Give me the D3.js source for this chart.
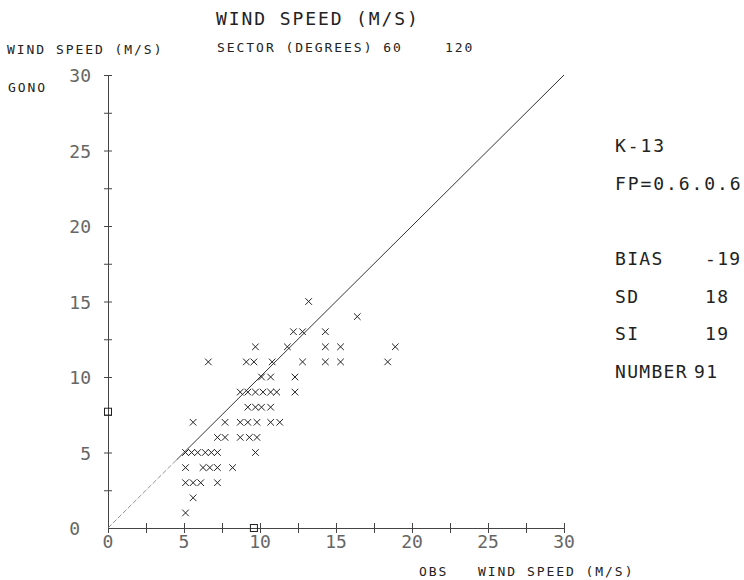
<!DOCTYPE html>
<html>
<head>
<meta charset="UTF-8">
<title>Wind speed scatter</title>
<script src="https://cdn.jsdelivr.net/npm/d3@7"></script>
<style>
  body { margin: 0; background: #fff; }
  svg text { font-family: "DejaVu Sans Mono", monospace; fill: #222; }
  .tick-lbl { font-size: 18px; fill: #666; }
  .small { font-size: 13px; letter-spacing: 1.95px; }
  .big { font-size: 18px; letter-spacing: 1.9px; }
  .stat { font-size: 18px; letter-spacing: 1.3px; }
  .axis-line { stroke: #444; stroke-width: 1; fill: none; }
  .mark { stroke: #222; stroke-width: 1; }
</style>
</head>
<body>
<div id="root"></div>
<script>
  // observed (x) vs model (y) wind speed, m/s
  const obs   = [5.1, 5.6,
                 5.1, 5.6, 6.1, 7.2,
                 5.1, 6.25, 6.7, 7.2, 8.2,
                 5.1, 5.5, 5.9, 6.4, 6.8, 7.2, 9.7,
                 7.2, 7.7, 8.7, 9.3, 9.8,
                 5.6, 7.7, 8.7, 9.2, 9.8, 10.7, 11.3,
                 9.2, 9.7, 10.1, 10.7,
                 8.7, 9.2, 9.7, 10.2, 10.7, 11.1, 12.3,
                 10.1, 10.7, 12.3,
                 6.6, 9.1, 9.6, 10.8, 12.8, 14.3, 15.3, 18.4,
                 9.7, 11.8, 14.3, 15.3, 18.9,
                 12.2, 12.8, 14.3,
                 16.4,
                 13.2];
  const model = [1, 2,
                 3, 3, 3, 3,
                 4, 4, 4, 4, 4,
                 5, 5, 5, 5, 5, 5, 5,
                 6, 6, 6, 6, 6,
                 7, 7, 7, 7, 7, 7, 7,
                 8, 8, 8, 8,
                 9, 9, 9, 9, 9, 9, 9,
                 10, 10, 10,
                 11, 11, 11, 11, 11, 11, 11, 11,
                 12, 12, 12, 12, 12,
                 13, 13, 13,
                 14,
                 15];
  const meanObs = 9.6;
  const meanModel = 7.7;
  const majorTicks = [0, 5, 10, 15, 20, 25, 30];
  const minorTicks = [2.5, 7.5, 12.5, 17.5, 22.5, 27.5];
  const statNames = ["BIAS", "SD", "SI", "NUMBER"];
  const statValues = ["-19", "18", "19", "91"];

  const width = 744, height = 580;
  const svg = d3.select("#root").append("svg")
    .attr("width", width).attr("height", height);

  const x = d3.scaleLinear().domain([0, 30]).range([108, 564]);
  const y = d3.scaleLinear().domain([0, 30]).range([528, 75]);

  // axes: line plus ticks crossing it on both sides
  const xAxis = d3.axisBottom(x).tickValues(majorTicks.concat(minorTicks))
    .tickSizeInner(5).tickSizeOuter(0).tickFormat("");
  const gx = svg.append("g").attr("transform", `translate(0,${y(0)})`).call(xAxis);
  gx.select(".domain").attr("class", "axis-line");
  gx.selectAll(".tick line").attr("y1", -5).attr("stroke", "#444");

  const yAxis = d3.axisLeft(y).tickValues(majorTicks.slice(1).concat(minorTicks))
    .tickSizeInner(4).tickSizeOuter(0).tickFormat("");
  const gy = svg.append("g").attr("transform", `translate(${x(0)},0)`).call(yAxis);
  gy.select(".domain").attr("class", "axis-line");
  gy.selectAll(".tick line").attr("x1", 4).attr("stroke", "#444");

  svg.append("g").selectAll("text").data(majorTicks).join("text")
    .attr("class", "tick-lbl")
    .attr("x", d => x(d)).attr("y", y(0) + 20)
    .attr("text-anchor", "middle").text(d => d);

  svg.append("g").selectAll("text").data(majorTicks).join("text")
    .attr("class", "tick-lbl")
    .attr("x", d => d === 0 ? x(0) - 28 : x(0) - 17).attr("y", d => y(d) + 7)
    .attr("text-anchor", "end").text(d => d);

  // 1:1 line
  svg.append("line")
    .attr("x1", x(0)).attr("y1", y(0)).attr("x2", x(4.5)).attr("y2", y(4.5))
    .attr("stroke", "#777").attr("stroke-width", 0.8).attr("stroke-dasharray", "5,2");
  svg.append("line")
    .attr("x1", x(4.5)).attr("y1", y(4.5)).attr("x2", x(30)).attr("y2", y(30))
    .attr("stroke", "#333").attr("stroke-width", 1);

  // scatter crosses
  const s = 3.3;
  const pts = obs.map((o, i) => ({ o: o, m: model[i] }));
  svg.append("g").selectAll("path").data(pts).join("path")
    .attr("class", "mark")
    .attr("d", d => {
      const cx = x(d.o), cy = y(d.m);
      return `M${cx - s},${cy - s}L${cx + s},${cy + s}M${cx - s},${cy + s}L${cx + s},${cy - s}`;
    });

  // mean markers
  svg.append("rect").attr("x", x(meanObs) - 3.5).attr("y", y(0) - 3.5)
    .attr("width", 7).attr("height", 7).attr("fill", "none").attr("stroke", "#222");
  svg.append("rect").attr("x", x(0) - 3.5).attr("y", y(meanModel) - 3.5)
    .attr("width", 7).attr("height", 7).attr("fill", "none").attr("stroke", "#222");

  // labels
  svg.append("text").attr("class", "big").attr("x", 216).attr("y", 25).text("WIND SPEED (M/S)");
  svg.append("text").attr("class", "small").attr("x", 217).attr("y", 52).text("SECTOR (DEGREES) 60");
  svg.append("text").attr("class", "small").attr("x", 445).attr("y", 52).text("120");
  svg.append("text").attr("class", "small").attr("x", 7).attr("y", 54).text("WIND SPEED (M/S)");
  svg.append("text").attr("class", "small").attr("x", 8).attr("y", 92).text("GONO");
  svg.append("text").attr("class", "small").attr("x", 419).attr("y", 576).text("OBS");
  svg.append("text").attr("class", "small").attr("x", 478).attr("y", 576).text("WIND SPEED (M/S)");

  svg.append("text").attr("class", "big").attr("x", 615).attr("y", 152).text("K-13");
  svg.append("text").attr("class", "big").attr("x", 615).attr("y", 190).text("FP=0.6.0.6");
  const stats = svg.append("g");
  statNames.forEach((n, i) => {
    const yy = 265 + i * 37.5;
    stats.append("text").attr("class", "stat").attr("x", 615).attr("y", yy).text(n);
    stats.append("text").attr("class", "stat")
      .attr("x", n === "NUMBER" ? 694 : 705).attr("y", yy).text(statValues[i]);
  });
</script>
</body>
</html>
